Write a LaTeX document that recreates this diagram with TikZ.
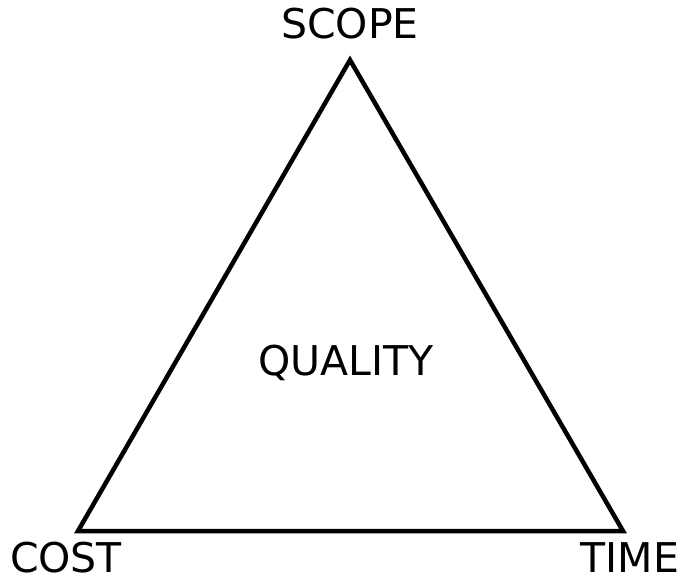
\documentclass[tikz,border=0pt]{standalone}
\usepackage{fontspec}
\setmainfont{DejaVu Sans}
\usetikzlibrary{calc}

\begin{document}
\begin{tikzpicture}[x=1pt,y=-1pt,
    corner/.style={anchor=base,font=\fontsize{41}{48}\selectfont,inner sep=0pt}]
  \useasboundingbox (0,0) rectangle (680,578);

  \coordinate (top) at (350,60);
  \coordinate (left) at (78,531);
  \coordinate (right) at (623,531);

  \draw[line width=4.5pt,line join=miter] (top) -- (right) -- (left) -- cycle;

  \node[corner] (scope) at (350,39) {SCOPE};
  \node[corner] (quality) at (346,375) {QUALITY};
  \node[corner] (cost) at (66,572) {COST};
  \node[corner] (time) at (630,572) {TIME};
\end{tikzpicture}
\end{document}
